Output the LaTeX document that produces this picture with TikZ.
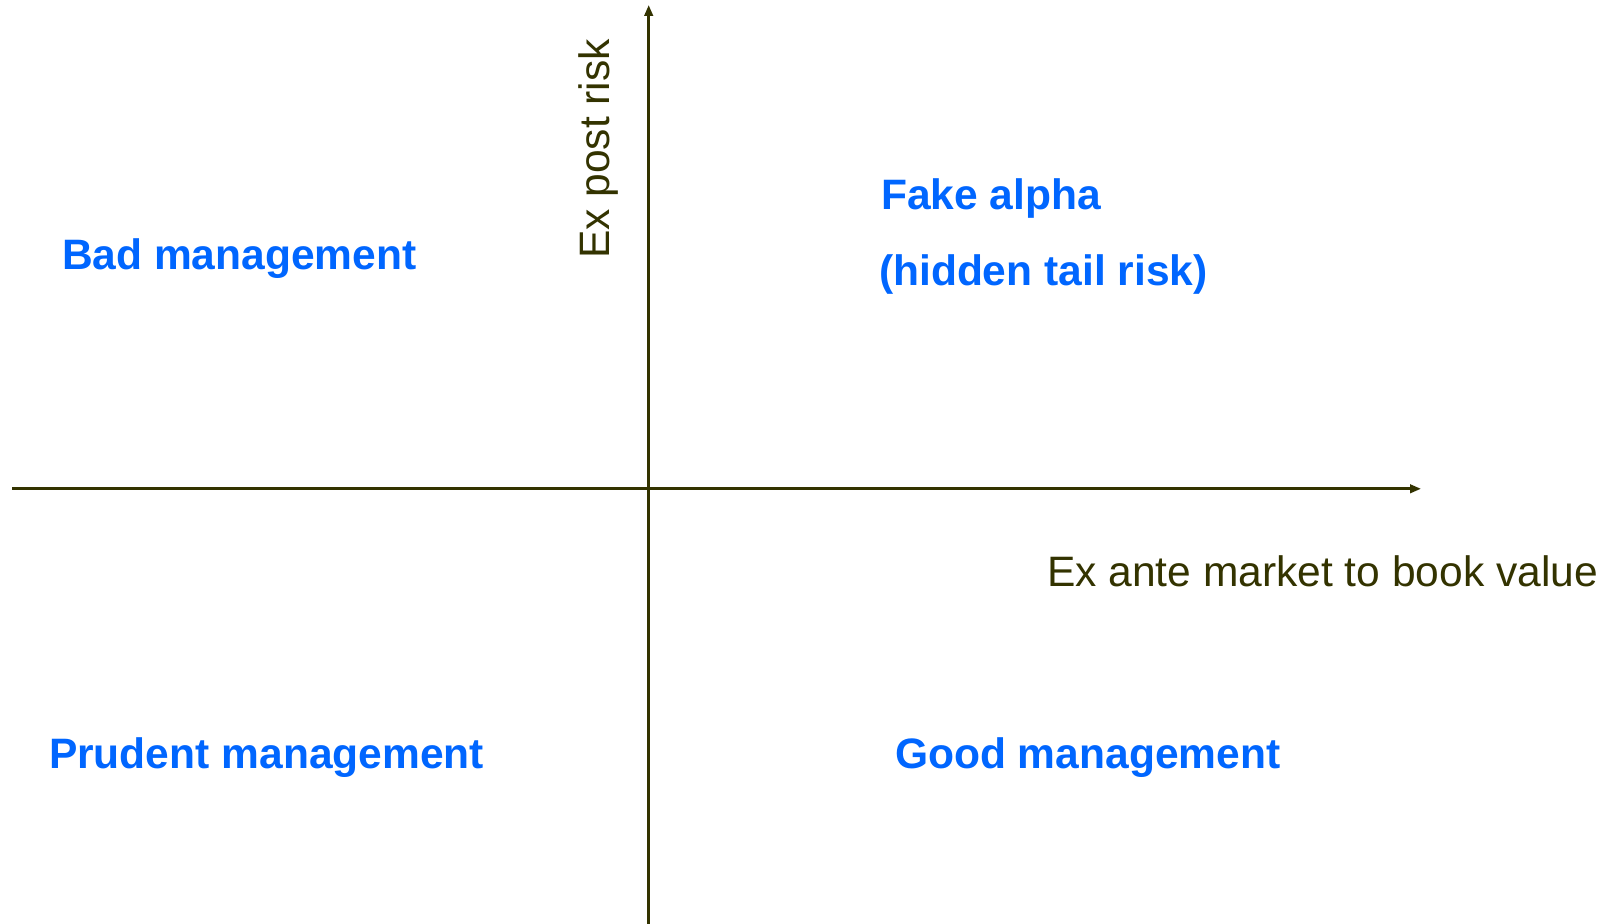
\documentclass[tikz,border=0pt]{standalone}
\usepackage{fontspec}
\setmainfont{Liberation Sans}
\usepackage{xcolor}
\usepackage{tikz}
\usetikzlibrary{arrows.meta,positioning}
\definecolor{axisolive}{RGB}{51,51,0}
\definecolor{quadblue}{RGB}{0,102,255}

\begin{document}
\begin{tikzpicture}[x=0.01cm, y=0.01cm,
    every node/.style={font=\fontsize{12.1}{14}\selectfont, inner sep=0pt, outer sep=0pt, anchor=base west},
    axis/.style={draw=axisolive, line width=0.75pt, -{Triangle[length=0.11cm, width=0.085cm]}},
    quad/.style={text=quadblue, font=\fontsize{12.1}{14}\selectfont\bfseries},
    axlabel/.style={text=axisolive}]
  \useasboundingbox[fill=white] (0,0) rectangle (1617,924);
  % axes
  \coordinate (xstart) at (12,435.2);
  \coordinate (xend) at (1421,435.2);
  \coordinate (ystart) at (648.7,0);
  \coordinate (yend) at (648.7,919);
  \draw[axis] (xstart) -- (xend);
  \draw[axis] (ystart) -- (yend);
  \node[axlabel] (xlabel) at (1047,337) {Ex ante market to book value};
  \node[axlabel, rotate=90] (ylabel) at (609,665) {Ex post risk};
  % quadrants
  \node[quad] (bad) at (62,654) {Bad management};
  \node[quad] (fake) at (881,714) {Fake alpha};
  \node[quad] (tail) at (879,638) {(hidden tail risk)};
  \node[quad] (prudent) at (49,155) {Prudent management};
  \node[quad] (good) at (895,155) {Good management};
\end{tikzpicture}
\end{document}
